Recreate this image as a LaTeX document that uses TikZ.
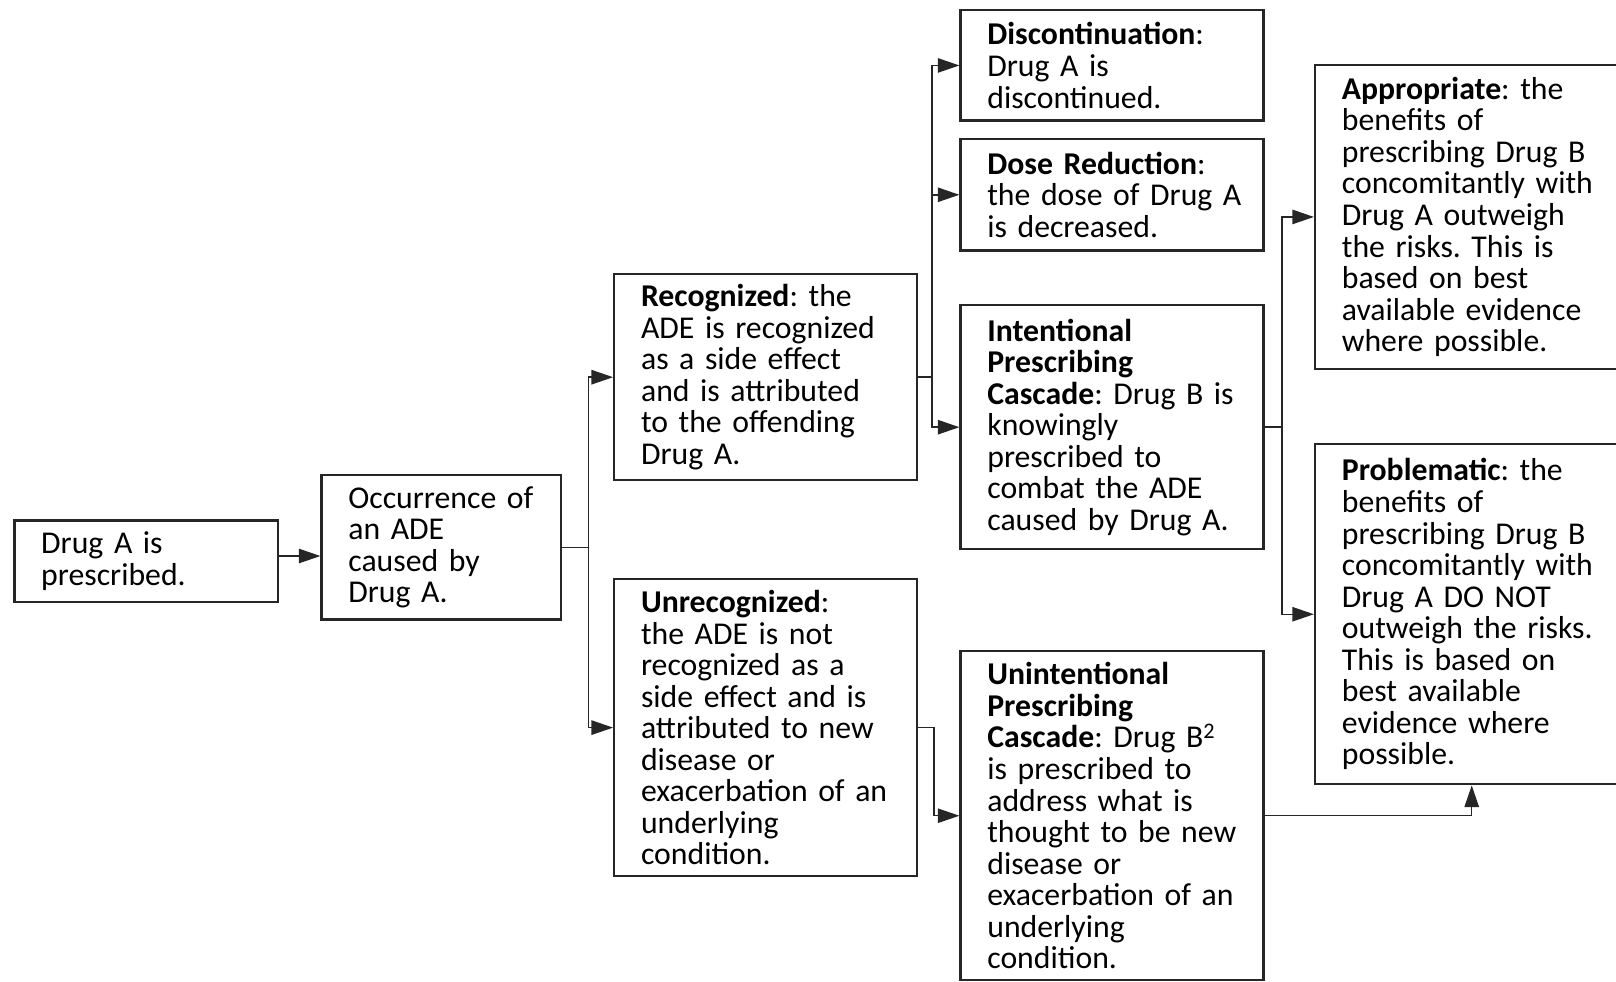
\documentclass[tikz,border=0pt]{standalone}
\usepackage{fontspec}
\setmainfont{Carlito}
\usetikzlibrary{arrows.meta}

% each box holds a fixed set of lines (separated by \cr), set flush left
% on a regular baseline grid
\newcommand{\boxlines}[1]{\vbox{\lineskiplimit=-100pt\lineskip=0pt\relax
  \halign{##\hfil\cr#1\crcr}}}

\tikzset{
  box/.style={draw=black!85, line width=2.2pt, align=left, inner xsep=26pt, inner ysep=0pt,
              font=\fontsize{30.8}{30.6}\selectfont\frenchspacing},
  conn/.style={line width=1.4pt, draw=black!85},
  arr/.style={conn, -{Triangle[length=21pt,width=14pt]}}
}

\begin{document}
\begin{tikzpicture}[x=1pt, y=-1pt]
\useasboundingbox (0,0) rectangle (1568,952);
\clip (0,0) rectangle (1568,952);

% first column
\node[box, text width=204pt, minimum height=79pt] (drug) at (142,544.5)
  {\boxlines{Drug A is\cr prescribed.}};
\node[box, text width=180pt, minimum height=140pt] (occ) at (428,531)
  {\boxlines{Occurrence of\cr an ADE\cr caused by\cr Drug A.}};

% recognition branch
\node[box, text width=242pt, minimum height=200pt] (rec) at (743,366)
  {\boxlines{\textbf{Recognized}: the\cr ADE is recognized\cr as a side effect\cr and is attributed\cr to the offending\cr Drug A.}};
\node[box, text width=242pt, minimum height=288pt] (unrec) at (743,706)
  {\boxlines{\textbf{Unrecognized}:\cr the ADE is not\cr recognized as a\cr side effect and is\cr attributed to new\cr disease or\cr exacerbation of an\cr underlying\cr condition.}};

% responses
\node[box, text width=242pt, minimum height=107pt] (disc) at (1079,63.5)
  {\boxlines{\textbf{Discontinuation}:\cr Drug A is\cr discontinued.}};
\node[box, text width=242pt, minimum height=108pt] (dose) at (1079,189)
  {\boxlines{\textbf{Dose Reduction}:\cr the dose of Drug A\cr is decreased.}};
\node[box, text width=242pt, minimum height=237pt] (inten) at (1079,414.5)
  {\boxlines{\textbf{Intentional}\cr \textbf{Prescribing}\cr \textbf{Cascade}: Drug B is\cr knowingly\cr prescribed to\cr combat the ADE\cr caused by Drug A.}};
\node[box, text width=242pt, minimum height=319pt] (unint) at (1079,791.5)
  {\boxlines{\textbf{Unintentional}\cr \textbf{Prescribing}\cr \textbf{Cascade}: Drug B\textsuperscript{2}\cr is prescribed to\cr address what is\cr thought to be new\cr disease or\cr exacerbation of an\cr underlying\cr condition.}};

% outcomes
\node[box, text width=252pt, minimum height=295pt] (appr) at (1428,210.5)
  {\boxlines{\textbf{Appropriate}: the\cr benefits of\cr prescribing Drug B\cr concomitantly with\cr Drug A outweigh\cr the risks. This is\cr based on best\cr available evidence\cr where possible.}};
\node[box, text width=252pt, minimum height=330pt] (prob) at (1428,596)
  {\boxlines{\textbf{Problematic}: the\cr benefits of\cr prescribing Drug B\cr concomitantly with\cr Drug A DO NOT\cr outweigh the risks.\cr This is based on\cr best available\cr evidence where\cr possible.}};

% connectors
\draw[arr] ([yshift=5pt]drug.east) -- ([yshift=5pt]drug.east -| occ.west);
\draw[arr] (occ.east) -- ++(26,0) |- (rec.west);
\draw[arr] (occ.east) -- ++(26,0) |- (unrec.west);
\draw[arr] (rec.east) -- ++(13,0) |- (disc.west);
\draw[arr] (rec.east) -- ++(13,0) |- (dose.west);
\draw[arr] (rec.east) -- ++(13,0) |- (inten.west);
\draw[arr] (unrec.east) -- ++(15,0) |- (unint.west);
\draw[arr] (inten.east) -- ++(17,0) |- (appr.west);
\draw[arr] (inten.east) -- ++(17,0) |- (prob.west);
\draw[arr] (unint.east) -| (prob.south);
\end{tikzpicture}
\end{document}
